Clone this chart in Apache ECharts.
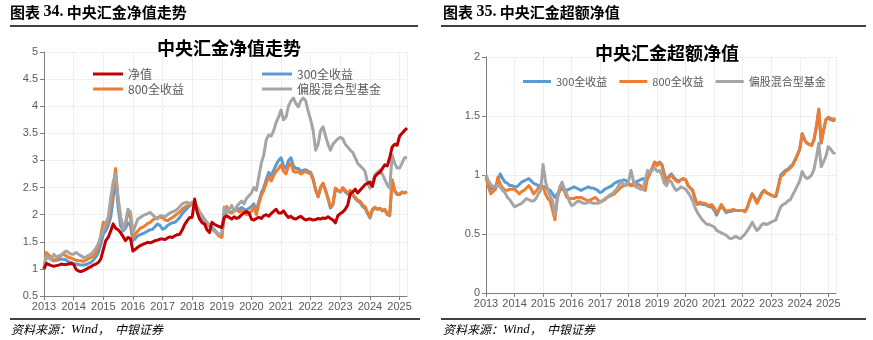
<!DOCTYPE html>
<html><head><meta charset="utf-8">
<script src="https://cdn.jsdelivr.net/npm/echarts@6/dist/echarts.min.js"></script>
<style>html,body{margin:0;padding:0;background:#fff;}#c{width:873px;height:340px;}</style>
</head><body><div id="c"></div>
<script>
// monthly observations, Jan 2013 .. Apr 2025
const startYear = 2013;
const xTickLabels = ['2013','2014','2015','2016','2017','2018','2019','2020','2021','2022','2023','2024','2025'];

// ---- Chart 34: 中央汇金净值走势 ----
const leftNav = [
 1.00,1.10,1.08,1.06,1.05,1.06,1.07,1.09,1.08,1.08,1.09,1.10,
 1.08,0.99,0.96,0.95,0.97,0.99,1.02,1.04,1.07,1.09,1.12,1.18,
 1.35,1.52,1.58,1.70,1.83,1.75,1.72,1.67,1.60,1.52,1.58,1.56,
 1.33,1.36,1.40,1.43,1.45,1.47,1.49,1.48,1.50,1.52,1.53,1.55,
 1.55,1.54,1.57,1.59,1.58,1.61,1.63,1.64,1.72,1.82,1.89,1.95,
 1.95,2.29,2.05,1.92,1.85,1.83,1.72,1.67,1.86,1.82,1.80,1.78,
 1.76,1.95,1.98,1.95,1.92,1.96,1.93,1.95,2.00,2.03,2.06,2.03,
 1.92,1.90,1.93,1.95,1.93,1.98,2.00,1.97,2.02,2.06,2.10,2.03,
 2.03,2.07,2.00,1.95,1.97,1.93,1.92,1.95,1.97,1.93,1.90,1.92,
 1.92,1.90,1.91,1.93,1.92,1.94,1.93,1.96,1.93,1.90,1.85,1.98,
 2.02,2.05,2.10,2.18,2.38,2.42,2.47,2.40,2.45,2.50,2.55,2.58,
 2.60,2.52,2.70,2.75,2.78,2.85,2.92,2.90,3.05,3.25,3.30,3.28,
 3.45,3.50,3.55,3.60];
const left300 = [
 1.00,1.24,1.20,1.17,1.15,1.16,1.17,1.18,1.18,1.16,1.13,1.12,
 1.10,1.09,1.08,1.07,1.07,1.08,1.10,1.12,1.16,1.22,1.30,1.45,
 1.64,1.70,1.80,1.95,2.30,2.69,2.14,1.80,1.70,1.75,1.85,1.80,
 1.52,1.56,1.61,1.63,1.65,1.67,1.70,1.72,1.73,1.78,1.83,1.80,
 1.73,1.75,1.80,1.83,1.85,1.86,1.90,1.95,2.02,2.07,2.12,2.16,
 2.20,2.18,2.07,2.00,1.92,1.89,1.85,1.80,1.77,1.72,1.67,1.62,
 1.61,1.98,2.12,2.05,2.05,2.08,2.12,2.10,2.13,2.10,2.08,2.12,
 2.15,2.20,2.05,2.25,2.40,2.50,2.65,2.78,2.72,2.82,2.92,3.00,
 3.05,2.90,2.85,3.00,3.05,2.90,2.85,2.85,2.80,2.82,2.83,2.80,
 2.78,2.66,2.46,2.33,2.50,2.58,2.45,2.30,2.12,2.18,2.47,2.44,
 2.42,2.48,2.42,2.38,2.43,2.36,2.30,2.25,2.22,2.15,2.12,2.02,
 1.94,2.08,2.12,2.10,2.11,2.07,2.09,2.00,1.98,2.64,2.44,2.37,
 2.37,2.41,2.40,2.42];
const left800 = [
 1.00,1.30,1.25,1.22,1.15,1.18,1.21,1.25,1.27,1.24,1.21,1.20,
 1.18,1.16,1.15,1.15,1.14,1.16,1.19,1.21,1.24,1.30,1.40,1.62,
 1.86,1.77,1.90,2.14,2.50,2.85,2.26,1.95,1.77,1.83,2.05,1.95,
 1.58,1.65,1.70,1.75,1.77,1.80,1.84,1.86,1.90,1.93,1.95,1.95,
 1.95,1.90,1.89,1.92,1.95,1.98,2.02,2.05,2.10,2.14,2.16,2.18,
 2.20,2.22,2.14,2.05,1.98,1.90,1.83,1.78,1.73,1.70,1.65,1.60,
 1.58,2.00,2.15,2.05,2.03,2.07,2.09,2.05,2.07,2.06,2.00,2.03,
 2.06,2.15,2.00,2.20,2.35,2.45,2.58,2.70,2.62,2.72,2.80,2.85,
 2.92,2.80,2.75,2.90,2.95,2.80,2.78,2.80,2.75,2.78,2.80,2.77,
 2.75,2.64,2.45,2.33,2.50,2.58,2.45,2.30,2.14,2.20,2.49,2.45,
 2.42,2.50,2.45,2.40,2.45,2.38,2.32,2.27,2.25,2.18,2.15,2.05,
 1.96,2.10,2.14,2.10,2.12,2.08,2.10,2.02,1.99,2.64,2.45,2.38,
 2.38,2.42,2.40,2.42];
const leftFund = [
 1.00,1.24,1.20,1.18,1.27,1.22,1.24,1.26,1.30,1.33,1.30,1.27,
 1.27,1.30,1.27,1.24,1.21,1.22,1.25,1.27,1.32,1.38,1.46,1.60,
 1.70,1.85,1.95,2.30,2.60,2.75,2.32,1.95,1.73,1.85,2.10,2.05,
 1.67,1.80,1.92,1.95,1.98,2.00,2.02,2.04,2.00,1.95,1.92,1.98,
 1.98,1.96,2.00,2.03,2.05,2.07,2.10,2.15,2.20,2.22,2.23,2.20,
 2.23,2.20,2.12,2.05,1.98,1.92,1.86,1.80,1.75,1.70,1.67,1.63,
 1.67,2.14,2.04,2.10,2.17,2.05,2.15,2.20,2.25,2.20,2.30,2.35,
 2.40,2.50,2.45,2.70,2.95,3.10,3.38,3.47,3.45,3.55,3.70,3.80,
 3.93,3.75,3.80,4.00,4.10,4.15,4.05,3.99,4.10,4.15,4.10,3.90,
 3.75,3.55,3.19,3.30,3.55,3.62,3.45,3.30,3.19,3.30,3.35,3.40,
 3.43,3.40,3.30,3.25,3.19,3.15,3.05,2.95,2.90,2.86,2.80,2.60,
 2.49,2.60,2.73,2.78,2.82,2.75,2.65,2.55,2.49,3.10,2.95,2.86,
 2.86,2.95,3.05,3.05];

// ---- Chart 35: 中央汇金超额净值 ----
const right300 = [
 1.00,0.92,0.88,0.89,0.90,0.95,1.01,0.97,0.94,0.93,0.91,0.91,
 0.90,0.90,0.92,0.94,0.95,0.96,0.97,0.95,0.93,0.92,0.91,0.90,
 0.90,0.90,0.88,0.87,0.84,0.81,0.84,0.87,0.88,0.88,0.87,0.88,
 0.89,0.90,0.89,0.88,0.87,0.88,0.89,0.90,0.89,0.89,0.88,0.87,
 0.85,0.86,0.88,0.89,0.90,0.91,0.93,0.94,0.95,0.95,0.96,0.95,
 0.93,0.91,0.93,0.94,0.95,0.96,0.97,0.95,0.97,1.02,1.06,1.11,
 1.09,1.11,1.09,1.01,0.95,0.99,1.01,0.98,0.96,0.95,0.96,0.97,
 0.96,0.91,0.89,0.86,0.79,0.75,0.76,0.75,0.75,0.74,0.73,0.73,
 0.70,0.66,0.70,0.74,0.71,0.68,0.69,0.69,0.70,0.70,0.70,0.70,
 0.70,0.69,0.73,0.79,0.84,0.81,0.77,0.81,0.85,0.87,0.85,0.84,
 0.83,0.82,0.82,0.91,1.00,1.02,1.04,1.05,1.07,1.09,1.13,1.17,
 1.22,1.35,1.30,1.27,1.26,1.25,1.30,1.41,1.55,1.27,1.37,1.47,
 1.48,1.47,1.46,1.47];
const right800 = [
 0.98,0.90,0.84,0.86,0.88,0.98,0.92,0.89,0.87,0.87,0.88,0.88,
 0.88,0.86,0.84,0.86,0.87,0.89,0.91,0.88,0.84,0.86,0.89,0.92,
 0.90,0.84,0.80,0.78,0.70,0.62,0.80,0.87,0.91,0.86,0.81,0.80,
 0.80,0.80,0.81,0.81,0.81,0.80,0.79,0.78,0.79,0.80,0.81,0.79,
 0.77,0.78,0.79,0.81,0.82,0.83,0.84,0.86,0.88,0.90,0.91,0.92,
 0.92,0.91,0.91,0.91,0.92,0.91,0.88,0.87,0.98,1.01,1.06,1.11,
 1.08,1.10,1.08,1.00,0.94,0.98,1.00,0.97,0.95,0.94,0.96,0.97,
 0.96,0.91,0.89,0.87,0.80,0.75,0.77,0.76,0.76,0.75,0.74,0.75,
 0.72,0.68,0.71,0.75,0.72,0.69,0.70,0.70,0.71,0.70,0.70,0.70,
 0.70,0.69,0.73,0.79,0.84,0.80,0.76,0.80,0.84,0.87,0.85,0.84,
 0.83,0.82,0.82,0.90,0.99,1.00,1.03,1.04,1.06,1.08,1.12,1.17,
 1.22,1.35,1.30,1.27,1.26,1.25,1.30,1.41,1.56,1.28,1.38,1.47,
 1.49,1.48,1.47,1.48];
const rightFund = [
 1.00,0.95,0.92,0.90,0.91,0.91,0.90,0.87,0.85,0.81,0.79,0.76,
 0.73,0.74,0.75,0.76,0.78,0.80,0.79,0.78,0.78,0.80,0.84,0.87,
 1.09,0.95,0.87,0.82,0.78,0.66,0.81,0.90,0.94,0.88,0.84,0.78,
 0.74,0.75,0.77,0.78,0.77,0.76,0.76,0.77,0.77,0.76,0.76,0.76,
 0.77,0.78,0.80,0.81,0.83,0.84,0.86,0.88,0.92,0.94,0.92,0.91,
 0.95,1.04,0.95,0.90,0.89,0.88,0.88,0.96,1.04,1.02,1.04,1.06,
 1.03,1.04,1.00,0.93,0.91,0.96,0.94,0.90,0.87,0.88,0.90,0.89,
 0.88,0.85,0.82,0.78,0.72,0.68,0.65,0.62,0.60,0.58,0.58,0.57,
 0.56,0.53,0.52,0.51,0.50,0.49,0.47,0.46,0.47,0.48,0.47,0.46,
 0.48,0.50,0.53,0.56,0.60,0.56,0.53,0.55,0.58,0.59,0.58,0.59,
 0.60,0.61,0.62,0.68,0.73,0.75,0.76,0.78,0.79,0.83,0.87,0.91,
 0.95,1.03,0.99,0.97,0.98,1.00,1.05,1.15,1.27,1.07,1.11,1.16,
 1.24,1.22,1.19,1.18];

const C_RED = '#C00000', C_BLUE = '#5B9BD5', C_ORANGE = '#ED7D31', C_GRAY = '#A5A5A5';
const TXT = '#595959';
const toPairs = arr => arr.map((v, i) => [startYear + i / 12, v]);

function xAxisCfg(grid, max) {
  return {
    gridIndex: grid, type: 'value', min: 2013, max: max, interval: 1,
    axisLine: {show: true, lineStyle: {color: '#7F7F7F', width: 1}},
    axisTick: {show: true, length: 4, lineStyle: {color: '#7F7F7F'}},
    axisLabel: {color: TXT, fontSize: 11, fontFamily: 'Liberation Sans', margin: 5,
      showMaxLabel: false,
      formatter: v => { const i = Math.round(v - 2013); return (Math.abs(v - Math.round(v)) < 1e-6 && xTickLabels[i]) ? xTickLabels[i] : ''; }},
    splitLine: {show: true, lineStyle: {type: 'dotted', color: '#E3E3E3', width: 1}}
  };
}
function yAxisCfg(grid, min, max) {
  return {
    gridIndex: grid, type: 'value', min: min, max: max, interval: 0.5,
    axisLine: {show: true, lineStyle: {color: '#7F7F7F', width: 1}},
    axisTick: {show: true, length: 4, lineStyle: {color: '#7F7F7F'}},
    axisLabel: {color: TXT, fontSize: 11, fontFamily: 'Liberation Sans', margin: 6},
    splitLine: {show: true, lineStyle: {type: 'dotted', color: '#E3E3E3', width: 1}}
  };
}
function lineSeries(name, data, color, xi, yi, z) {
  return {name: name, type: 'line', xAxisIndex: xi, yAxisIndex: yi, data: toPairs(data),
    showSymbol: false, symbol: 'none', z: z,
    lineStyle: {color: color, width: 3, join: 'round'}, itemStyle: {color: color}, emphasis: {disabled: true}};
}
const legendText = {color: TXT, fontSize: 12, fontFamily: 'Noto Sans CJK SC'};
const legendText2 = {color: TXT, fontSize: 11, fontFamily: 'Noto Sans CJK SC'};

const chart = echarts.init(document.getElementById('c'), null, {renderer: 'canvas'});
chart.setOption({
  animation: false,
  backgroundColor: '#fff',
  title: [
    {text: '中央汇金净值走势', left: 224, top: 34, textAlign: 'center',
     textStyle: {fontSize: 18, fontWeight: 'bold', color: '#000', fontFamily: 'Noto Sans CJK SC'}},
    {text: '中央汇金超额净值', left: 662, top: 39, textAlign: 'center',
     textStyle: {fontSize: 18, fontWeight: 'bold', color: '#000', fontFamily: 'Noto Sans CJK SC'}}
  ],
  legend: [
    {data: ['净值', '800全收益'], orient: 'vertical', left: 88, top: 63, itemGap: 3,
     icon: 'rect', itemWidth: 30, itemHeight: 3, textStyle: legendText, selectedMode: false},
    {data: ['300全收益', '偏股混合型基金'], orient: 'vertical', left: 257, top: 63, itemGap: 3,
     icon: 'rect', itemWidth: 30, itemHeight: 3, textStyle: legendText, selectedMode: false},
    {data: ['300全收益', '800全收益', '偏股混合型基金'], orient: 'horizontal', left: 518, top: 71, itemGap: 12,
     icon: 'rect', itemWidth: 28, itemHeight: 3, itemStyle: {}, textStyle: legendText2, selectedMode: false}
  ],
  grid: [
    {left: 44, top: 52, width: 363, height: 244, containLabel: false},
    {left: 486, top: 57, width: 350, height: 236, containLabel: false}
  ],
  xAxis: [xAxisCfg(0, 2025.25), xAxisCfg(1, 2025.27)],
  yAxis: [yAxisCfg(0, 0.5, 5), yAxisCfg(1, 0, 2)],
  series: [
    lineSeries('300全收益', left300, C_BLUE, 0, 0, 2),
    lineSeries('800全收益', left800, C_ORANGE, 0, 0, 3),
    lineSeries('偏股混合型基金', leftFund, C_GRAY, 0, 0, 4),
    lineSeries('净值', leftNav, C_RED, 0, 0, 5),
    lineSeries('300全收益', right300, C_BLUE, 1, 1, 2),
    lineSeries('800全收益', right800, C_ORANGE, 1, 1, 3),
    lineSeries('偏股混合型基金', rightFund, C_GRAY, 1, 1, 4)
  ],
  graphic: [
    {type: 'text', left: 10, top: 4, style: {
      text: '{a|图表 }{b|34.}{a| 中央汇金净值走势}',
      rich: {a: {fontSize: 15, fontWeight: 'bold', fontFamily: 'Noto Sans CJK SC', fill: '#000'},
             b: {fontSize: 16, fontWeight: 'bold', fontFamily: 'Liberation Serif', fill: '#000'}}}},
    {type: 'text', left: 443, top: 4, style: {
      text: '{a|图表 }{b|35.}{a| 中央汇金超额净值}',
      rich: {a: {fontSize: 15, fontWeight: 'bold', fontFamily: 'Noto Sans CJK SC', fill: '#000'},
             b: {fontSize: 16, fontWeight: 'bold', fontFamily: 'Liberation Serif', fill: '#000'}}}},
    {type: 'line', shape: {x1: 10, y1: 26, x2: 418, y2: 26}, style: {stroke: '#000', lineWidth: 1.5}},
    {type: 'line', shape: {x1: 441, y1: 26, x2: 866, y2: 26}, style: {stroke: '#000', lineWidth: 1.5}},
    {type: 'line', shape: {x1: 10, y1: 319, x2: 420, y2: 319}, style: {stroke: '#000', lineWidth: 1.5}},
    {type: 'line', shape: {x1: 441, y1: 319, x2: 866, y2: 319}, style: {stroke: '#000', lineWidth: 1.5}},
    {type: 'text', left: 11, top: 323, style: {
      text: '{a|资料来源：}{b|Wind}{a|，  中银证券}',
      rich: {a: {fontSize: 12, fontStyle: 'italic', fontFamily: 'Noto Sans CJK SC', fill: '#000'},
             b: {fontSize: 13, fontStyle: 'italic', fontFamily: 'Liberation Serif', fill: '#000'}}}},
    {type: 'text', left: 443, top: 323, style: {
      text: '{a|资料来源：}{b|Wind}{a|，  中银证券}',
      rich: {a: {fontSize: 12, fontStyle: 'italic', fontFamily: 'Noto Sans CJK SC', fill: '#000'},
             b: {fontSize: 13, fontStyle: 'italic', fontFamily: 'Liberation Serif', fill: '#000'}}}}
  ]
});
</script></body></html>
